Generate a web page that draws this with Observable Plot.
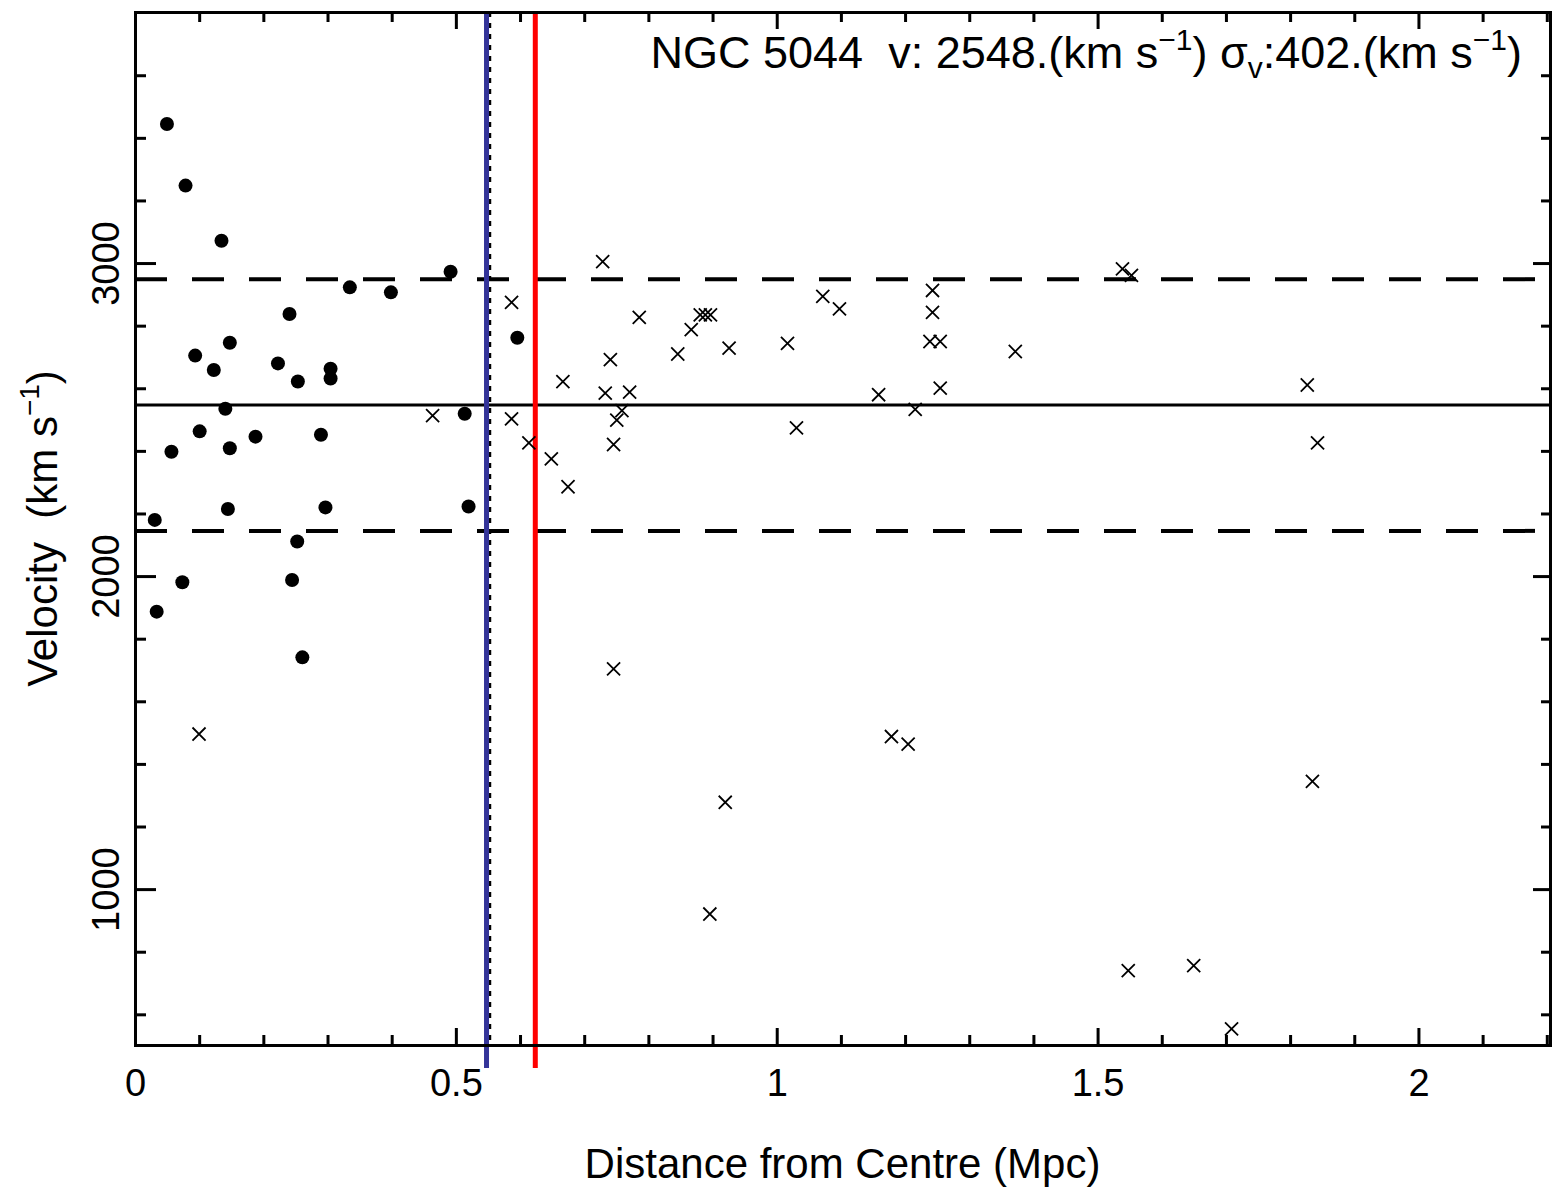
<!DOCTYPE html>
<html><head><meta charset="utf-8">
<script src="https://cdn.jsdelivr.net/npm/d3@7"></script>
<script src="https://cdn.jsdelivr.net/npm/@observablehq/plot@0.6"></script>
<style>body{margin:0;background:#fff}</style>
</head><body><div id="chart"></div>
<script>
// ---- data ----
const groupName = "NGC 5044";
const meanV = 2548;      // km/s
const sigmaV = 402;      // km/s
const blueRadius = 0.547;   // Mpc
const dottedRadius = 0.552; // Mpc
const redRadius = 0.623;    // Mpc

const memberDist = [0.049,0.078,0.134,0.491,0.334,0.398,0.240,0.147,0.093,0.122,0.222,0.253,0.304,0.304,0.140,0.513,0.100,0.187,0.289,0.147,0.056,0.144,0.296,0.519,0.030,0.252,0.073,0.244,0.033,0.260,0.595];
const memberVel  = [3446,3249,3073,2974,2924,2908,2839,2747,2706,2660,2681,2623,2664,2633,2536,2520,2464,2447,2453,2410,2399,2216,2221,2224,2181,2112,1982,1989,1888,1742,2763];

const otherDist = [0.099,0.463,0.586,0.586,0.613,0.648,0.666,0.674,0.728,0.732,0.740,0.745,0.750,0.758,0.770,0.745,0.785,0.845,0.866,0.880,0.888,0.896,0.925,0.919,0.895,1.016,1.030,1.071,1.097,1.158,1.215,1.242,1.242,1.238,1.254,1.254,1.178,1.204,1.371,1.538,1.552,1.547,1.649,1.708,1.826,1.842,1.834];
const otherVel  = [1497,2514,2876,2504,2427,2376,2623,2287,3006,2586,2693,2422,2500,2530,2589,1705,2828,2711,2789,2836,2836,2836,2730,1279,922,2745,2475,2895,2855,2581,2534,2914,2844,2751,2751,2602,1489,1465,2719,2983,2962,741,757,555,2612,2427,1346];

const xMajor = [0, 0.5, 1, 1.5, 2];
const xMinor = [0.1,0.2,0.3,0.4,0.6,0.7,0.8,0.9,1.1,1.2,1.3,1.4,1.6,1.7,1.8,1.9,2.1,2.2];
const yMajor = [1000, 2000, 3000];
const yMinor = [600,800,1200,1400,1600,1800,2200,2400,2600,2800,3200,3400,3600];
const xDomain = [0, 2.205];
const yDomain = [502, 3802];

// ---- layout ----
const W = 1552, H = 1188, mL = 135, mR = 2, mT = 12, mB = 143;
const plotW = W - mL - mR, plotH = H - mT - mB;

const members = memberDist.map((d, i) => ({d, v: memberVel[i]}));
const others = otherDist.map((d, i) => ({d, v: otherVel[i]}));

const chart = Plot.plot({
  width: W, height: H,
  marginLeft: mL, marginRight: mR, marginTop: mT, marginBottom: mB,
  x: {domain: xDomain, axis: null},
  y: {domain: yDomain, axis: null},
  style: {fontFamily: "'Liberation Sans', Arial, sans-serif", background: "#fff", color: "#000"},
  marks: [
    // ticks (inward) on all four sides
    Plot.ruleX(xMinor, {x: d => d, insetTop: plotH - 10, strokeWidth: 3}),
    Plot.ruleX(xMajor, {x: d => d, insetTop: plotH - 17, strokeWidth: 3}),
    Plot.ruleX(xMinor, {x: d => d, insetBottom: plotH - 10, strokeWidth: 3}),
    Plot.ruleX(xMajor, {x: d => d, insetBottom: plotH - 17, strokeWidth: 3}),
    Plot.ruleY(yMinor, {y: d => d, insetRight: plotW - 11, strokeWidth: 3}),
    Plot.ruleY(yMajor, {y: d => d, insetRight: plotW - 21, strokeWidth: 3}),
    Plot.ruleY(yMinor, {y: d => d, insetLeft: plotW - 9, strokeWidth: 3}),
    Plot.ruleY(yMajor, {y: d => d, insetLeft: plotW - 17, strokeWidth: 3}),
    // tick labels
    Plot.text(xMajor, {x: d => d, text: d => String(d), frameAnchor: "bottom", lineAnchor: "top", dy: 24, fontSize: 38}),
    Plot.text(yMajor, {y: d => d, text: d => String(d), frameAnchor: "left", textAnchor: "middle", lineAnchor: "bottom", rotate: -90, dx: -17, fontSize: 38}),
    // mean and +/- sigma
    Plot.ruleY([meanV], {y: d => d, strokeWidth: 3}),
    Plot.ruleY([meanV + sigmaV, meanV - sigmaV], {y: d => d, strokeWidth: 4, strokeDasharray: "32,25"}),
    // radii
    Plot.ruleX([dottedRadius], {x: d => d, strokeWidth: 3, strokeDasharray: "5,6"}),
    Plot.ruleX([blueRadius], {x: d => d, stroke: "#343499", strokeWidth: 5, insetBottom: -23}),
    Plot.ruleX([redRadius], {x: d => d, stroke: "#ff0000", strokeWidth: 5, insetBottom: -23}),
    // galaxies
    Plot.dot(others, {x: "d", y: "v", symbol: "times", r: 6, stroke: "#000", strokeWidth: 1.8}),
    Plot.dot(members, {x: "d", y: "v", r: 7, fill: "#000", stroke: "none"}),
    Plot.frame({strokeWidth: 3})
  ]
});
document.getElementById("chart").appendChild(chart);

// rich text (superscripts / subscripts)
function richText(sel, segs, size) {
  let shift = 0;
  for (const s of segs) {
    const t = sel.append("tspan").text(s.t);
    let target = s.sup ? -18 : s.sub ? 10 : 0;
    t.attr("dy", target - shift);
    shift = target;
    if (s.sup || s.sub) t.attr("font-size", Math.round(size * 0.66));
  }
}
const svg = d3.select(chart);
const title = svg.append("text").attr("x", 1522).attr("y", 68).attr("text-anchor", "end")
  .attr("font-size", 45).style("white-space", "pre").attr("fill", "#000");
richText(title, [
  {t: `${groupName}  v: ${meanV}.(km s`}, {t: "−1", sup: true}, {t: ") σ"}, {t: "v", sub: true},
  {t: `:${sigmaV}.(km s`}, {t: "−1", sup: true}, {t: ")"}
], 45);

svg.append("text").attr("x", mL + plotW / 2).attr("y", 1178).attr("text-anchor", "middle")
  .attr("font-size", 42).attr("fill", "#000").text("Distance from Centre (Mpc)");

const ylab = svg.append("text").attr("transform", `translate(57,${mT + plotH / 2}) rotate(-90)`)
  .attr("text-anchor", "middle").attr("font-size", 42).style("white-space", "pre").attr("fill", "#000");
richText(ylab, [{t: "Velocity  (km s"}, {t: "−1", sup: true}, {t: ")"}], 42);
</script></body></html>
